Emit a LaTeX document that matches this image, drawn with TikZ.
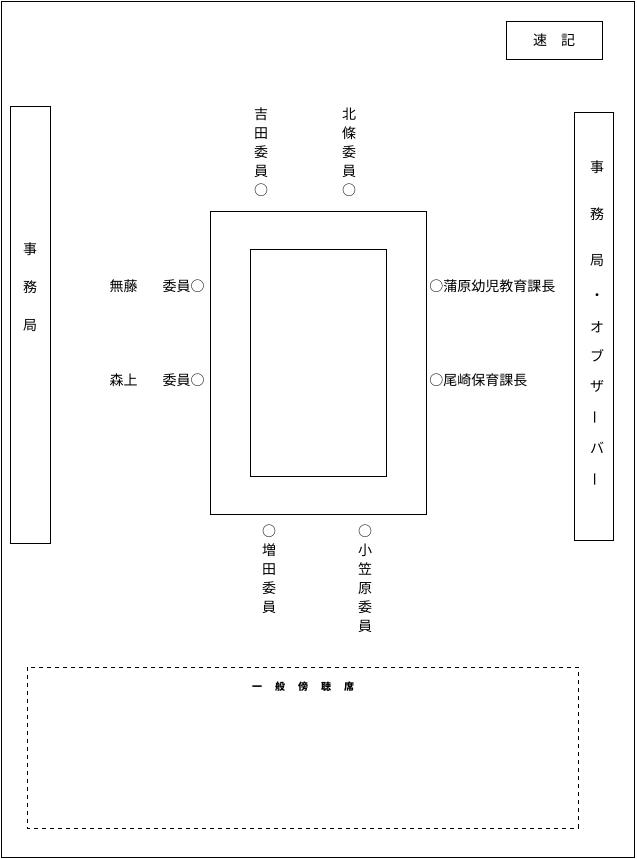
\documentclass[tikz,border=0pt]{standalone}
\usepackage{fontspec}
\newfontfamily\jpfont{Noto Sans CJK JP}
\usepackage{tikz}
\usetikzlibrary{positioning}

\begin{document}
\begin{tikzpicture}[
    x=0.75pt,y=-0.75pt,
    frame/.style={draw, line width=0.6pt},
    seat/.style={font=\jpfont\fontsize{10.5}{14.25}\selectfont, inner sep=0pt, align=center},
    tall/.style={font=\jpfont\fontsize{10.5}{28.5}\selectfont, inner sep=0pt, align=center},
    public/.style={draw, dashed, line width=0.6pt}
]
\useasboundingbox (0,0) rectangle (636,859);

% Room and fixed boxes
\draw[frame] (1.5,1.5) rectangle (634,857);
\node[frame, minimum width=72pt, minimum height=28.5pt, seat] (sokki) at (554,40) {速　記};
\draw[frame] (10,106) rectangle (50,543);
\draw[frame] (574,112) rectangle (613,540);

% Table
\draw[frame] (210,211) rectangle (426,514);
\draw[frame] (250,249) rectangle (386,476);

% Secretariat columns
\node[tall] (jimu) at (30,287) {事\\務\\局};
\foreach \c/\y [count=\i] in {事/167,務/214,局/261,・/297,オ/327,ブ/356,ザ/386,バ/448}
  \node[seat] (obs\i) at (597,\y) {\c};
\node[seat, rotate=90] (bar1) at (597,417) {ー};
\node[seat, rotate=90] (bar2) at (597,479) {ー};

% Members around the table
\node[seat, anchor=south] (yoshida) at (261,197) {吉\\田\\委\\員\\○};
\node[seat, anchor=south] (hojo) at (349,197) {北\\條\\委\\員\\○};
\node[seat, anchor=east] (muto) at (205,286) {無藤\hspace{18.75pt}委員○};
\node[seat, anchor=east] (morigami) at (205,380) {森上\hspace{18.75pt}委員○};
\node[seat, anchor=west] (kambara) at (429,286) {○蒲原幼児教育課長};
\node[seat, anchor=west] (ozaki) at (429,380) {○尾崎保育課長};
\node[seat, anchor=north] (masuda) at (269,525) {○\\増\\田\\委\\員};
\node[seat, anchor=north] (ogasawara) at (365,525) {○\\小\\笠\\原\\委\\員};

% Public gallery
\draw[public] (27,667) rectangle (578,828);
\node[font=\jpfont\bfseries\fontsize{7.5}{9}\selectfont, inner sep=0pt] (gallery) at (303,687)
  {一\hspace{9.75pt}般\hspace{9.75pt}傍\hspace{9.75pt}聴\hspace{9.75pt}席};
\end{tikzpicture}
\end{document}
